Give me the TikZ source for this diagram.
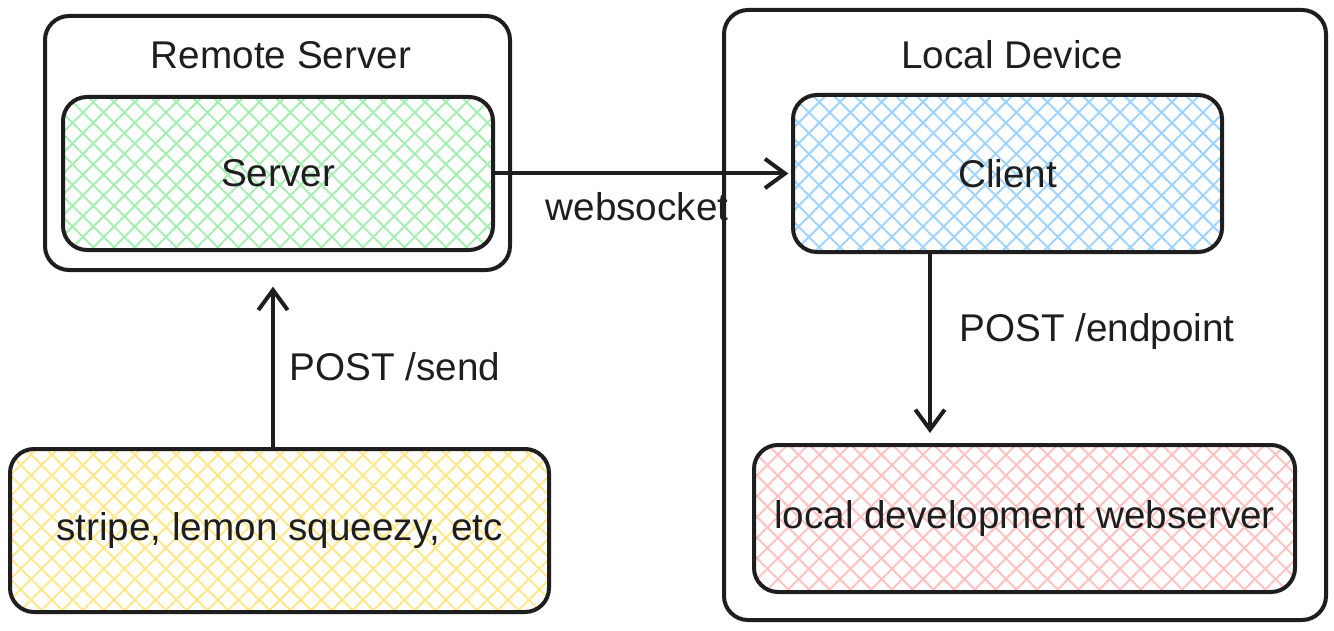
\documentclass[tikz,border=0pt]{standalone}
\usepackage{fontspec}
\setmainfont{Liberation Sans}
\usepackage{xcolor}
\usetikzlibrary{arrows.meta, patterns.meta, positioning}
\definecolor{ink}{HTML}{1E1E1E}
\definecolor{hgreen}{HTML}{A8EDB3}
\definecolor{hblue}{HTML}{A0D4FF}
\definecolor{hred}{HTML}{FFC2C2}
\definecolor{hyellow}{HTML}{FFE88A}

\begin{document}
\begin{tikzpicture}[x=0.75pt, y=-0.75pt,
                box/.style={draw=ink, line width=3pt, rectangle, rounded corners=18pt, align=center, text=ink, font=\fontsize{29}{34}\selectfont},
                hatched/.style={box, pattern={Hatch[angle=45, distance=11pt, line width=1.5pt]}, pattern color=#1},
                tag/.style={text=ink, font=\fontsize{29}{34}\selectfont},
                arr/.style={draw=ink, line width=3pt, -{Straight Barb[length=15pt, width=22pt]}}]
                \useasboundingbox (0,0) rectangle (1334,631);

                % outer frames
                \node[box, minimum width=348.75pt, minimum height=190.5pt] (remote) at (277.5,143) {};
                \node[box, minimum width=451.5pt, minimum height=457.5pt] (local) at (1025,315) {};
                \node[tag] (remotetitle) at (281,55) {Remote Server};
                \node[tag] (localtitle) at (1012,55) {Local Device};

                % inner boxes
                \node[hatched=hgreen, minimum width=322.5pt, minimum height=114.75pt] (server) at (278,173.5) {Server};
                \node[hatched=hblue, minimum width=321.75pt, minimum height=117.75pt] (client) at (1007.5,173.5) {Client};
                \node[hatched=hred, minimum width=405.75pt, minimum height=110.25pt] (webserver) at (1024.5,518.5) {local development webserver};
                \node[hatched=hyellow, minimum width=404.25pt, minimum height=122.25pt] (stripe) at (279.5,530.5) {stripe, lemon squeezy, etc};

                \draw[arr, shorten >=2pt] (server.east) -- (client.west);
                \draw[arr, shorten >=11pt] (stripe.north -| 273,0) -- (remote.south -| 273,0);
                \draw[arr, shorten >=7.5pt] (client.south -| 930,0) -- (webserver.north -| 930,0);

                \node[tag] (ws) at (637,207) {websocket};
                \node[tag] (send) at (395,367) {POST /send};
                \node[tag] (endpoint) at (1097,331) {POST /endpoint};
            \end{tikzpicture}
\end{document}
